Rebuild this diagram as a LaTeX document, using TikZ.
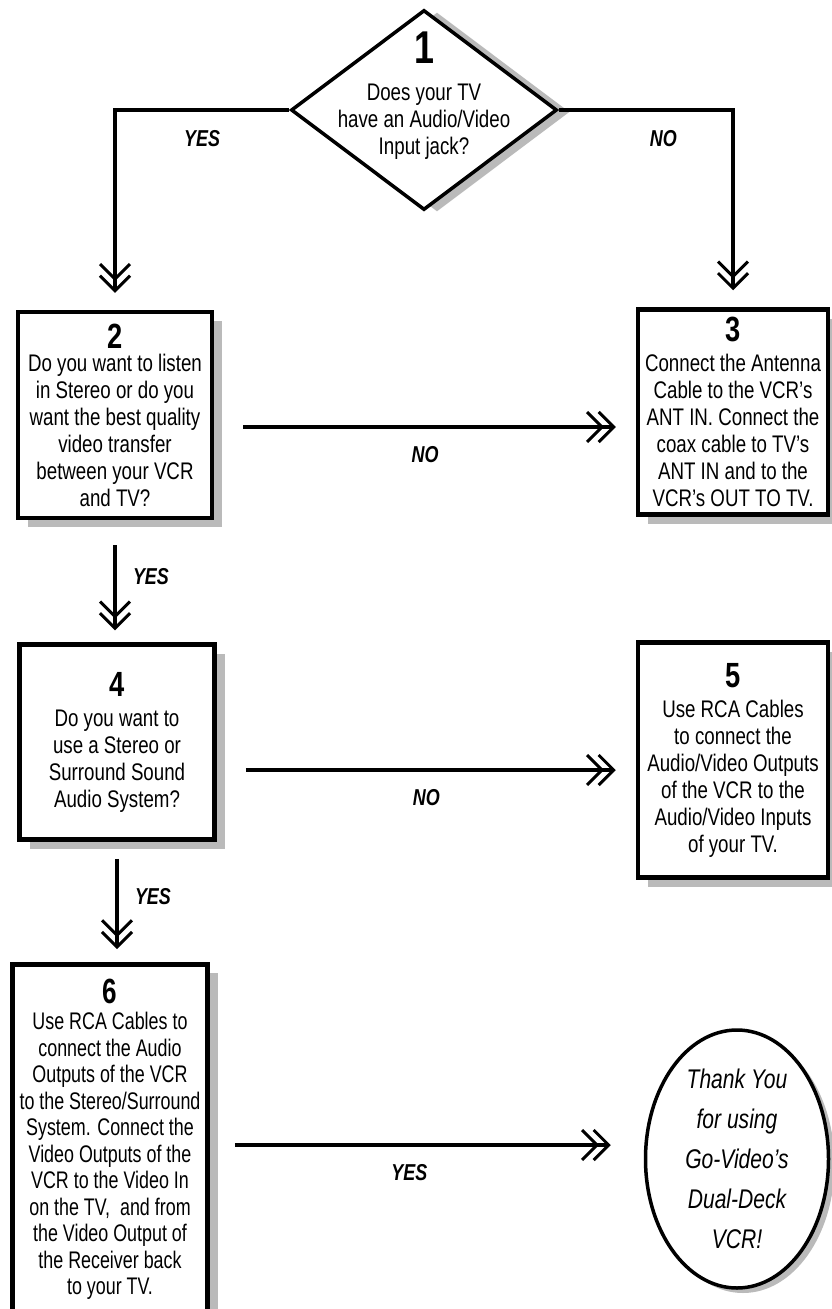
\documentclass[tikz,border=0pt]{standalone}
\usepackage{fontspec}
\setmainfont{Liberation Sans}[FakeStretch=0.78]
\newfontfamily\narrowsans{Liberation Sans}[FakeStretch=0.745]
\usetikzlibrary{arrows.meta,positioning,shapes.geometric,shadows,calc}

\newcommand{\stepno}[2][3pt]{{\fontsize{35}{35}\selectfont\bfseries #2}\\[#1]}

\begin{document}
\begin{tikzpicture}[
    x=1pt, y=-1pt,
    >={Straight Barb[length=15pt,width=30pt,line width=3pt,sep=-7pt]
       Straight Barb[length=15pt,width=30pt,line width=3pt]},
    shade/.style   ={drop shadow={shadow xshift=10pt, shadow yshift=-9pt,
                     fill=black!27, opacity=1}},
    stepbox/.style ={rectangle, draw=black, line width=4.5pt, fill=white,
                     inner sep=0pt, align=center, shade,
                     font=\fontsize{24}{27}\selectfont},
    ask/.style     ={diamond, draw=black, line width=3.5pt, fill=white,
                     inner sep=0pt, minimum width=266pt, minimum height=200pt,
                     drop shadow={shadow xshift=13pt, shadow yshift=-2pt,
                     fill=black!27, opacity=1}},
    bye/.style     ={ellipse, draw=black, line width=3.5pt, fill=white,
                     inner sep=0pt, align=center,
                     font=\fontsize{27}{40}\selectfont\itshape,
                     drop shadow={shadow xshift=6pt, shadow yshift=-5pt,
                     fill=black!27, opacity=1}},
    flow/.style    ={->, line width=4pt},
    lbl/.style     ={inner sep=0pt, font=\fontsize{23}{23}\selectfont\bfseries\itshape},
]
\useasboundingbox (0,0) rectangle (831,1309);

% ----------------------------------------------------------------------
%  question 1 (diamond) and the first split
% ----------------------------------------------------------------------
\node[ask] (q1) at (424,110) {};
\node[align=center, inner sep=0pt, anchor=north,
      font=\fontsize{24}{27}\selectfont] (q1txt) at (424,32)
        {{\fontsize{46}{46}\selectfont\bfseries 1}\\[10pt]
         Does your TV\\have an Audio/Video\\Input jack?};

\node[stepbox, minimum width=194pt, minimum height=206pt] (q2) at (115,415)
        {\stepno[-4pt]{2}Do you want to listen\\in Stereo or do you\\want the best quality\\
         video transfer\\between your VCR\\and TV?};
\node[stepbox, minimum width=190pt, minimum height=205pt] (a3) at (733,412)
        {\stepno{3}Connect the Antenna\\Cable to the VCR’s\\ANT IN. Connect the\\
         coax cable to TV’s\\ANT IN and to the\\VCR’s OUT TO TV.};

\draw[flow, shorten >=17pt] (q1.west) -| (q2.north)
      node[lbl, pos=0.25, below=18pt] {YES};
\draw[flow, shorten >=17pt] (q1.east) -| (a3.north)
      node[lbl, pos=0.3, below=18pt] {NO};

% ----------------------------------------------------------------------
%  question 2 -> 3 / 4
% ----------------------------------------------------------------------
\node[stepbox, minimum width=195pt, minimum height=195pt] (q4) at (117,742)
        {\stepno{4}Do you want to\\use a Stereo or\\Surround Sound\\Audio System?};
\node[stepbox, minimum width=190pt, minimum height=235pt] (a5) at (733,760)
        {\stepno{5}Use RCA Cables\\to connect the\\Audio/Video Outputs\\
         of the VCR to the\\Audio/Video Inputs\\of your TV.};

\draw[flow, shorten <=29pt, shorten >=20pt]
      ([yshift=-12pt]q2.east) -- ([yshift=-12pt]q2.east -| a3.west)
      node[lbl, midway, below=17pt] {NO};
\draw[flow, shorten <=25pt, shorten >=12pt]
      (q2.south) -- (q2.south |- q4.north)
      node[lbl, pos=0.46, right=16pt] {YES};

% ----------------------------------------------------------------------
%  question 4 -> 5 / 6, then the end
% ----------------------------------------------------------------------
\node[stepbox, minimum width=195pt, minimum height=350pt, anchor=north,
      font=\narrowsans\fontsize{24}{26.5}\selectfont] (a6) at (110,962)
        {\stepno[0pt]{6}Use RCA Cables to\\connect the Audio\\Outputs of the VCR\\
         to the Stereo/Surround\\System. Connect the\\Video Outputs of the\\
         VCR to the Video In\\on the TV,\ \ and from\\the Video Output of\\
         the Receiver back\\to your TV.};
\node[bye, minimum width=183pt, minimum height=258pt] (thx) at (737,1159)
        {Thank You\\for using\\Go-Video’s\\Dual-Deck\\VCR!};

\draw[flow, shorten <=29pt, shorten >=20pt]
      ([yshift=-28pt]q4.east) -- ([yshift=-28pt]q4.east -| a5.west)
      node[lbl, midway, below=17pt] {NO};
\draw[flow, shorten <=17pt, shorten >=13pt]
      (q4.south) -- (q4.south |- a6.north)
      node[lbl, pos=0.46, right=16pt] {YES};
\draw[flow, shorten <=25pt, shorten >=33pt]
      ([yshift=-183pt]a6.north east) -- ([yshift=-183pt]a6.north east -| thx.west)
      node[lbl, pos=0.46, below=17pt] {YES};

\end{tikzpicture}
\end{document}
